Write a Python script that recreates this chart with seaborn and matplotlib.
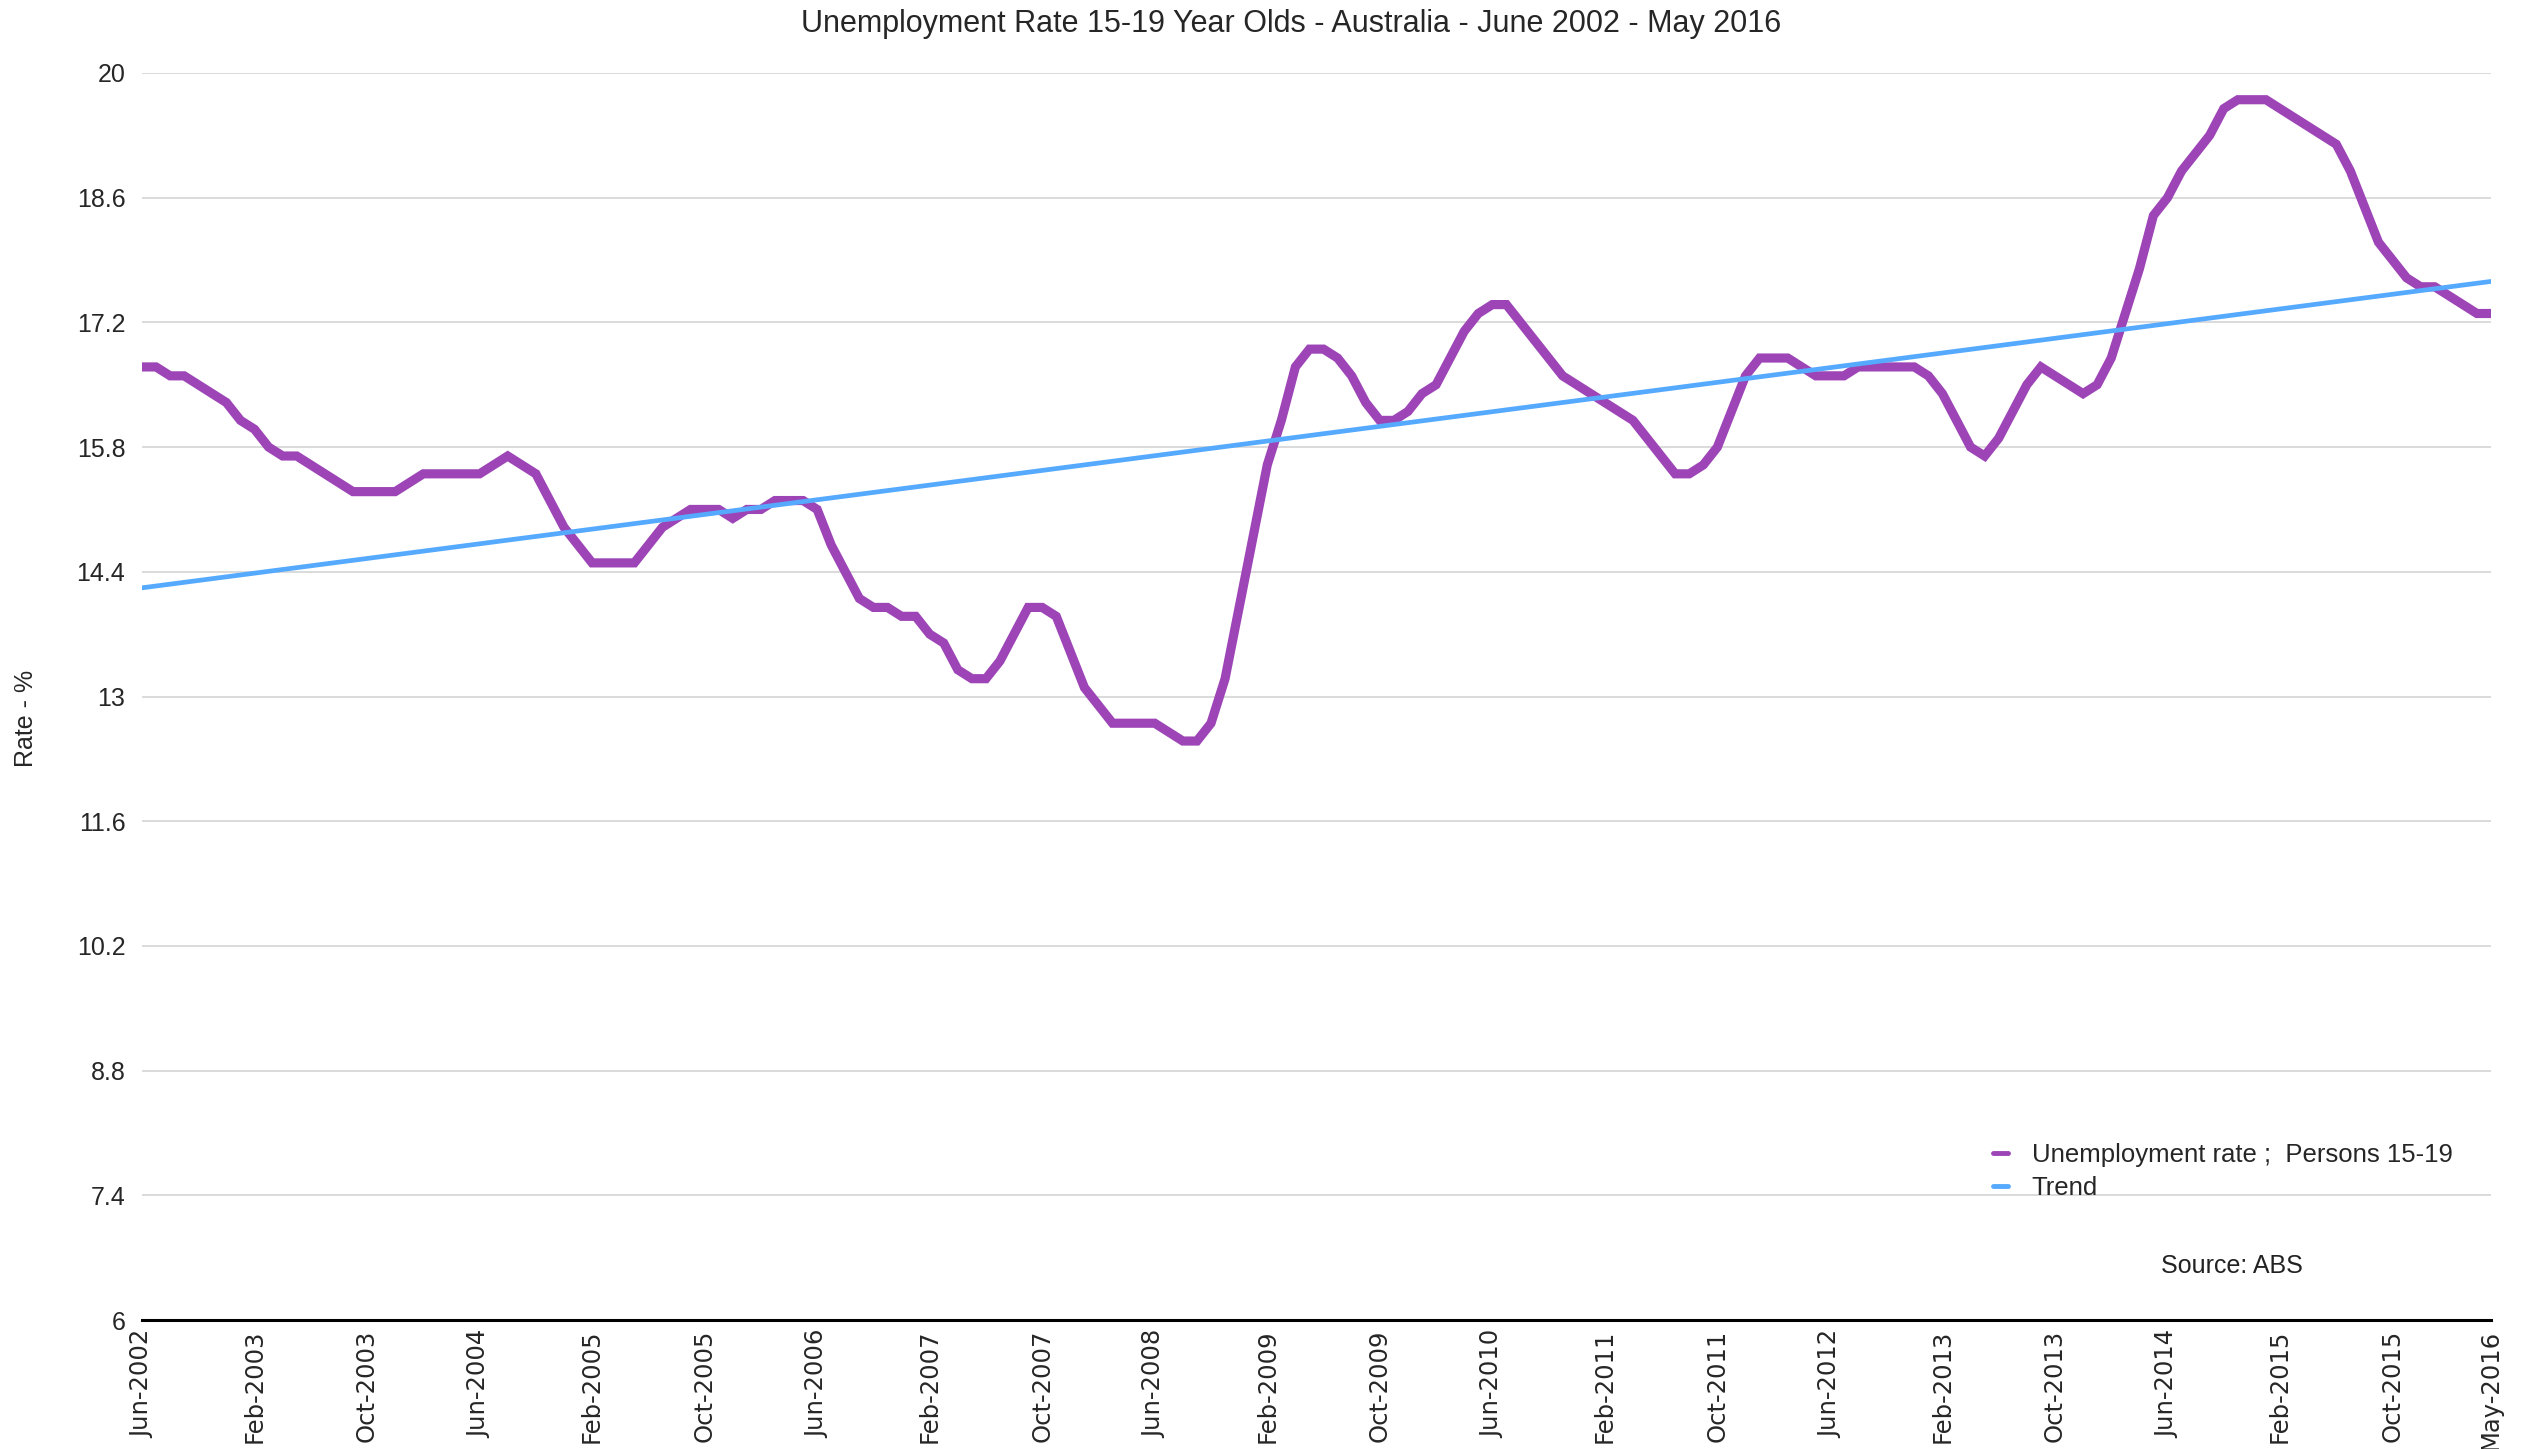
import numpy as np
import pandas as pd
import matplotlib
matplotlib.use('Agg')
import matplotlib.pyplot as plt
import seaborn as sns
from matplotlib.lines import Line2D

# monthly unemployment rate, persons 15-19, Jun-2002 .. May-2016
rate = [16.7, 16.7, 16.6, 16.6, 16.5, 16.4, 16.3, 16.1, 16.0, 15.8,
        15.7, 15.7, 15.6, 15.5, 15.4, 15.3, 15.3, 15.3, 15.3, 15.4,
        15.5, 15.5, 15.5, 15.5, 15.5, 15.6, 15.7, 15.6, 15.5, 15.2,
        14.9, 14.7, 14.5, 14.5, 14.5, 14.5, 14.7, 14.9, 15.0, 15.1,
        15.1, 15.1, 15.0, 15.1, 15.1, 15.2, 15.2, 15.2, 15.1, 14.7,
        14.4, 14.1, 14.0, 14.0, 13.9, 13.9, 13.7, 13.6, 13.3, 13.2,
        13.2, 13.4, 13.7, 14.0, 14.0, 13.9, 13.5, 13.1, 12.9, 12.7,
        12.7, 12.7, 12.7, 12.6, 12.5, 12.5, 12.7, 13.2, 14.0, 14.8,
        15.6, 16.1, 16.7, 16.9, 16.9, 16.8, 16.6, 16.3, 16.1, 16.1,
        16.2, 16.4, 16.5, 16.8, 17.1, 17.3, 17.4, 17.4, 17.2, 17.0,
        16.8, 16.6, 16.5, 16.4, 16.3, 16.2, 16.1, 15.9, 15.7, 15.5,
        15.5, 15.6, 15.8, 16.2, 16.6, 16.8, 16.8, 16.8, 16.7, 16.6,
        16.6, 16.6, 16.7, 16.7, 16.7, 16.7, 16.7, 16.6, 16.4, 16.1,
        15.8, 15.7, 15.9, 16.2, 16.5, 16.7, 16.6, 16.5, 16.4, 16.5,
        16.8, 17.3, 17.8, 18.4, 18.6, 18.9, 19.1, 19.3, 19.6, 19.7,
        19.7, 19.7, 19.6, 19.5, 19.4, 19.3, 19.2, 18.9, 18.5, 18.1,
        17.9, 17.7, 17.6, 17.6, 17.5, 17.4, 17.3, 17.3]
months = pd.date_range('2002-06-01', periods=len(rate), freq='MS').strftime('%b-%Y').tolist()

# trend line end values (Jun-2002, May-2016)
trend_start = 14.22
trend_end = 17.66

y_ticks = [6, 7.4, 8.8, 10.2, 11.6, 13, 14.4, 15.8, 17.2, 18.6, 20]

purple = '#9d45b6'
blue = '#55aaff'

df = pd.DataFrame({'idx': np.arange(len(rate)), 'rate': rate})
tr = pd.DataFrame({'idx': [0, len(rate) - 1], 'rate': [trend_start, trend_end]})

sns.set_theme(style='white')
plt.rcParams['font.family'] = ['Liberation Sans', 'DejaVu Sans']

fig = plt.figure(figsize=(25.25, 14.49), dpi=100)
ax = fig.add_axes([142 / 2525, 1 - 1320 / 1449, (2491 - 142) / 2525, (1320 - 73) / 1449])

sns.lineplot(data=df, x='idx', y='rate', ax=ax, color=purple, lw=6.6,
             solid_joinstyle='miter', zorder=3)
sns.lineplot(data=tr, x='idx', y='rate', ax=ax, color=blue, lw=3.4, zorder=4)

ax.set_xlim(0, len(rate) - 1)
ax.set_ylim(6, 20)
ax.set_yticks(y_ticks)
ax.set_yticklabels(['%g' % v for v in y_ticks], fontsize=18)
ax.yaxis.grid(True, color='#d4d4d4', lw=1.2)
ax.set_axisbelow(True)

tick_pos = list(range(0, len(rate), 8)) + [len(rate) - 1]
ax.set_xticks(tick_pos)
ax.set_xticklabels([months[i] for i in tick_pos], rotation=90, fontsize=17.5,
                   family='DejaVu Sans', va='top', ha='center')
ax.tick_params(axis='both', length=0)
ax.tick_params(axis='y', pad=12)
ax.tick_params(axis='x', pad=7)

for s in ['left', 'right', 'top']:
    ax.spines[s].set_visible(False)
ax.spines['bottom'].set_color('black')
ax.spines['bottom'].set_linewidth(2.2)

ax.set_xlabel('')
ax.set_ylabel('')
fig.text(26 / 2525, 1 - 718 / 1449, 'Rate - %', rotation=90, fontsize=18,
         ha='center', va='center')
fig.text(1291 / 2525, 1 - 24 / 1449,
         'Unemployment Rate 15-19 Year Olds - Australia - June 2002 - May 2016',
         fontsize=22, ha='center', va='center')
fig.text(2232 / 2525, 1 - 1266 / 1449, 'Source: ABS', fontsize=18,
         ha='center', va='center', color='#222222')

handles = [Line2D([], [], color=purple, lw=3.5),
           Line2D([], [], color=blue, lw=3.5)]
ax.legend(handles, ['Unemployment rate ;  Persons 15-19', 'Trend'],
          loc='upper left', bbox_to_anchor=(1993 / 2525, 1 - 1143 / 1449),
          bbox_transform=fig.transFigure, frameon=False, fontsize=18.5,
          handlelength=0.6, handletextpad=0.9, labelspacing=0.35,
          borderpad=0, borderaxespad=0)

fig.savefig('out.png', dpi=100)
